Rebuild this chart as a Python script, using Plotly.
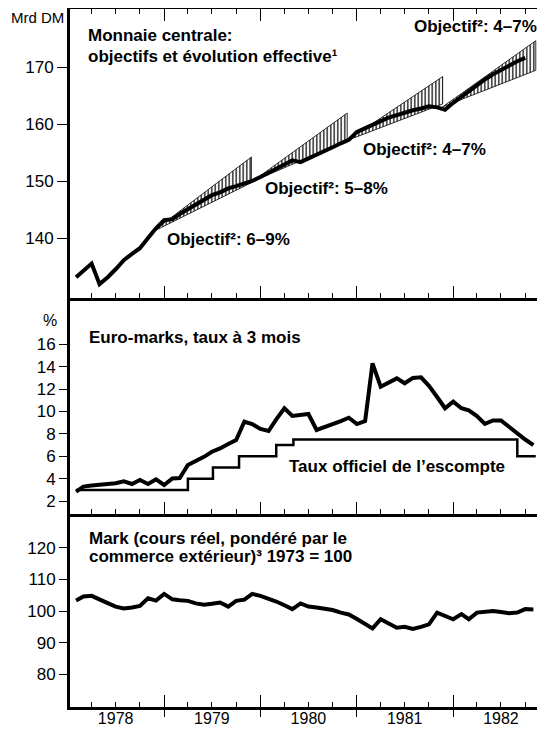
import pandas as pd
import plotly.graph_objects as go

# --- data (monthly, first of month) ---
MONEY_START = "1978-02-01"
MONEY = [133.2, 134.4, 135.6, 132.0, 133.2, 134.6, 136.2, 137.3, 138.3, 140.1, 141.8,
         143.2, 143.4, 144.3, 145.1, 146.0, 146.8, 147.6, 148.1, 148.8, 149.2, 149.6, 150.1,
         150.8, 151.5, 152.2, 153.0, 153.7, 153.4, 154.0, 154.7, 155.3, 156.0, 156.7, 157.3,
         158.7, 159.4, 160.0, 160.6, 161.2, 161.7, 162.1, 162.5, 162.8, 163.2, 163.0, 162.6,
         163.8, 164.9, 165.9, 167.0, 167.9, 168.8, 169.6, 170.4, 171.1, 171.7]

# target corridors (Objectif)
CORRIDOR_START = ["1978-11-15", "1979-11-28", "1980-11-25", "1981-11-22"]
CORRIDOR_END = ["1979-11-28", "1980-11-25", "1981-11-22", "1982-11-10"]
CORRIDOR_BASE = [141.1, 149.9, 157.2, 163.1]
CORRIDOR_LOW = [149.8, 157.2, 163.6, 169.5]
CORRIDOR_HIGH = [154.3, 162.0, 168.4, 174.7]
CORRIDOR_LABELS = ["Objectif²: 6–9%", "Objectif²: 5–8%", "Objectif²: 4–7%", "Objectif²: 4–7%"]

RATES_START = "1978-02-01"
EUROMARK = [2.84, 3.3, 3.4, 3.44, 3.5, 3.6, 3.77, 3.53, 3.88, 3.53, 3.95,
            3.44, 4.03, 4.06, 5.22, 5.55, 5.95, 6.41, 6.7, 7.1, 7.46, 9.09, 8.88,
            8.44, 8.26, 9.3, 10.29, 9.6, 9.7, 9.78, 8.35, 8.6, 8.88, 9.15, 9.45,
            8.88, 9.15, 14.3, 12.21, 12.6, 12.96, 12.52, 13.0, 13.05, 12.3, 11.3, 10.29,
            10.88, 10.29, 10.1, 9.6, 8.9, 9.2, 9.2, 8.6, 8.0, 7.5, 7.0]

DISCOUNT_DATES = ["1978-02-01", "1979-04-01", "1979-07-05", "1979-10-12", "1980-03-01",
                  "1980-05-05", "1982-09-01", "1982-11-10"]
DISCOUNT = [3, 4, 5, 6, 7, 7.5, 6, 6]

MARK = [103.3, 104.6, 104.8, 103.8, 102.5, 101.4, 100.8, 101.1, 101.6, 104.0, 103.3,
        105.4, 103.7, 103.4, 103.2, 102.4, 102.0, 102.3, 102.7, 101.4, 103.2, 103.6, 105.4,
        104.8, 104.0, 103.0, 101.8, 100.6, 102.4, 101.4, 101.1, 100.8, 100.3, 99.5, 98.9,
        97.5, 96.0, 94.5, 97.4, 96.0, 94.7, 95.0, 94.3, 95.0, 95.8, 99.5, 98.5,
        97.4, 99.0, 97.4, 99.5, 99.6, 100.0, 99.7, 99.3, 99.5, 100.6, 100.5]

YEAR_LABELS = ["1978", "1979", "1980", "1981", "1982"]
YEAR_STARTS = ["1979-01-01", "1980-01-01", "1981-01-01", "1982-01-01"]
MID_YEARS = ["1978-07-01", "1979-07-01", "1980-07-01", "1981-07-01", "1982-07-01"]
QUARTERS = [d.strftime("%Y-%m-%d") for d in pd.date_range("1978-04-01", "1982-10-01", freq="QS")]
X_RANGE = ["1978-01-09", "1982-12-15"]

# --- geometry (page pixels; the page body adds an 8px offset) ---
OFF = 8
W, H = 545 - OFF, 730 - OFF
PLOT_LEFT, PLOT_TOP, PLOT_BOTTOM = 70, 9, 707
ML, MT, MB = PLOT_LEFT - OFF, PLOT_TOP - OFF, 730 - PLOT_BOTTOM
PLOT_W = W - ML
PLOT_H = H - MT - MB


def px_x(X):
    return (X - PLOT_LEFT) / PLOT_W


def px_y(Y):
    return (PLOT_BOTTOM - Y) / PLOT_H


D1 = px_y(297.5)   # bottom of top panel
D2 = px_y(514)     # bottom of middle panel

FONT = "Liberation Sans"

fig = go.Figure()

money_x = pd.date_range(MONEY_START, periods=len(MONEY), freq="MS")
rates_x = pd.date_range(RATES_START, periods=len(EUROMARK), freq="MS")
mark_x = pd.date_range(RATES_START, periods=len(MARK), freq="MS")

# hatched target corridors
for s, e, b, lo, hi in zip(CORRIDOR_START, CORRIDOR_END, CORRIDOR_BASE, CORRIDOR_LOW, CORRIDOR_HIGH):
    fig.add_trace(go.Scatter(
        x=[s, e, e, s], y=[b, hi, lo, b], mode="lines", fill="toself",
        line=dict(color="black", width=0.8),
        fillcolor="rgba(0,0,0,0)",
        fillpattern=dict(shape="|", fgcolor="black", bgcolor="white", size=3.5, solidity=0.35),
        xaxis="x", yaxis="y", showlegend=False, hoverinfo="skip"))

fig.add_trace(go.Scatter(x=money_x, y=MONEY, mode="lines",
                         line=dict(color="black", width=4), xaxis="x", yaxis="y", showlegend=False))

fig.add_trace(go.Scatter(x=rates_x, y=EUROMARK, mode="lines",
                         line=dict(color="black", width=4), xaxis="x2", yaxis="y2", showlegend=False))
fig.add_trace(go.Scatter(x=DISCOUNT_DATES, y=DISCOUNT, mode="lines", line_shape="hv",
                         line=dict(color="black", width=2.5), xaxis="x2", yaxis="y2", showlegend=False))

fig.add_trace(go.Scatter(x=mark_x, y=MARK, mode="lines",
                         line=dict(color="black", width=4), xaxis="x3", yaxis="y3", showlegend=False))

# placeholders so the overlay axes (year ticks below / year labels) are drawn
for ax in ("x4", "x5"):
    fig.add_trace(go.Scatter(x=[], y=[], xaxis=ax, yaxis="y3", showlegend=False, hoverinfo="skip"))

x_common = dict(
    type="date", range=X_RANGE, showline=True, linecolor="black", linewidth=2.5,
    tickmode="array", tickvals=YEAR_STARTS, ticks="inside", ticklen=12, tickwidth=1.3,
    tickcolor="black", showticklabels=False, showgrid=False, zeroline=False, automargin=False,
    minor=dict(tickmode="array", tickvals=QUARTERS, ticks="inside", ticklen=5,
               tickwidth=1.2, tickcolor="black", showgrid=False),
)
y_common = dict(
    showline=True, linecolor="black", linewidth=3, ticks="outside", tickwidth=1.3,
    tickcolor="black", showgrid=False, zeroline=False, tickmode="array", automargin=False,
    tickfont=dict(family=FONT, size=17, color="black"),
)

fig.update_layout(
    template="none",
    width=W, height=H,
    margin=dict(l=ML, r=0, t=MT, b=MB),
    paper_bgcolor="white", plot_bgcolor="white",
    font=dict(family=FONT, color="black"),
    xaxis=dict(x_common, anchor="y", mirror="ticks"),
    xaxis2=dict(x_common, anchor="y2"),
    xaxis3=dict(x_common, anchor="y3"),
    xaxis4=dict(type="date", range=X_RANGE, overlaying="x3", anchor="y3", showline=False,
                tickmode="array", tickvals=YEAR_STARTS, ticks="outside", ticklen=9,
                tickwidth=1.3, tickcolor="black", showticklabels=False, showgrid=False,
                zeroline=False, automargin=False),
    xaxis5=dict(type="date", range=X_RANGE, overlaying="x3", anchor="y3", showline=False,
                tickmode="array", tickvals=MID_YEARS, ticktext=YEAR_LABELS, ticks="",
                tickfont=dict(family=FONT, size=16, color="black"), showgrid=False,
                zeroline=False, automargin=False),
    yaxis=dict(y_common, domain=[D1, 1], anchor="x", range=[129.65, 180.26],
               tickvals=[140, 150, 160, 170], ticklen=10),
    yaxis2=dict(y_common, domain=[D2, D1], anchor="x2", range=[0.85, 20.18],
                tickvals=[2, 4, 6, 8, 10, 12, 14, 16], ticklen=8),
    yaxis3=dict(y_common, domain=[0, D2], anchor="x3", range=[69.67, 130.65],
                tickvals=[80, 90, 100, 110, 120], ticklen=8),
)

BOLD = dict(family=FONT, size=17, color="black")
notes = [
    ("<b>Monnaie centrale:</b>", 87, 35, "left", "middle", BOLD),
    ("<b>objectifs et évolution effective¹</b>", 87, 57, "left", "middle", BOLD),
    ("<b>" + CORRIDOR_LABELS[3] + "</b>", 538, 27, "right", "middle", BOLD),
    ("<b>" + CORRIDOR_LABELS[2] + "</b>", 362, 149, "left", "middle", BOLD),
    ("<b>" + CORRIDOR_LABELS[1] + "</b>", 264, 188, "left", "middle", BOLD),
    ("<b>" + CORRIDOR_LABELS[0] + "</b>", 166, 239, "left", "middle", BOLD),
    ("<b>Euro-marks, taux à 3 mois</b>", 88, 338, "left", "middle", BOLD),
    ("<b>Taux officiel de l’escompte</b>", 288, 466, "left", "middle", BOLD),
    ("<b>Mark (cours réel, pondéré par le</b>", 88, 538, "left", "middle", BOLD),
    ("<b>commerce extérieur)³ 1973 = 100</b>", 88, 556, "left", "middle", BOLD),
    ("Mrd DM", 65, 8, "right", "top", dict(family=FONT, size=15, color="black")),
    ("%", 58, 320, "right", "middle", dict(family=FONT, size=16, color="black")),
]
for text, X, Y, xa, ya, font in notes:
    fig.add_annotation(text=text, x=px_x(X), y=px_y(Y), xref="paper", yref="paper",
                       xanchor=xa, yanchor=ya, showarrow=False, font=font, borderpad=0)

fig.write_html("out.html")
